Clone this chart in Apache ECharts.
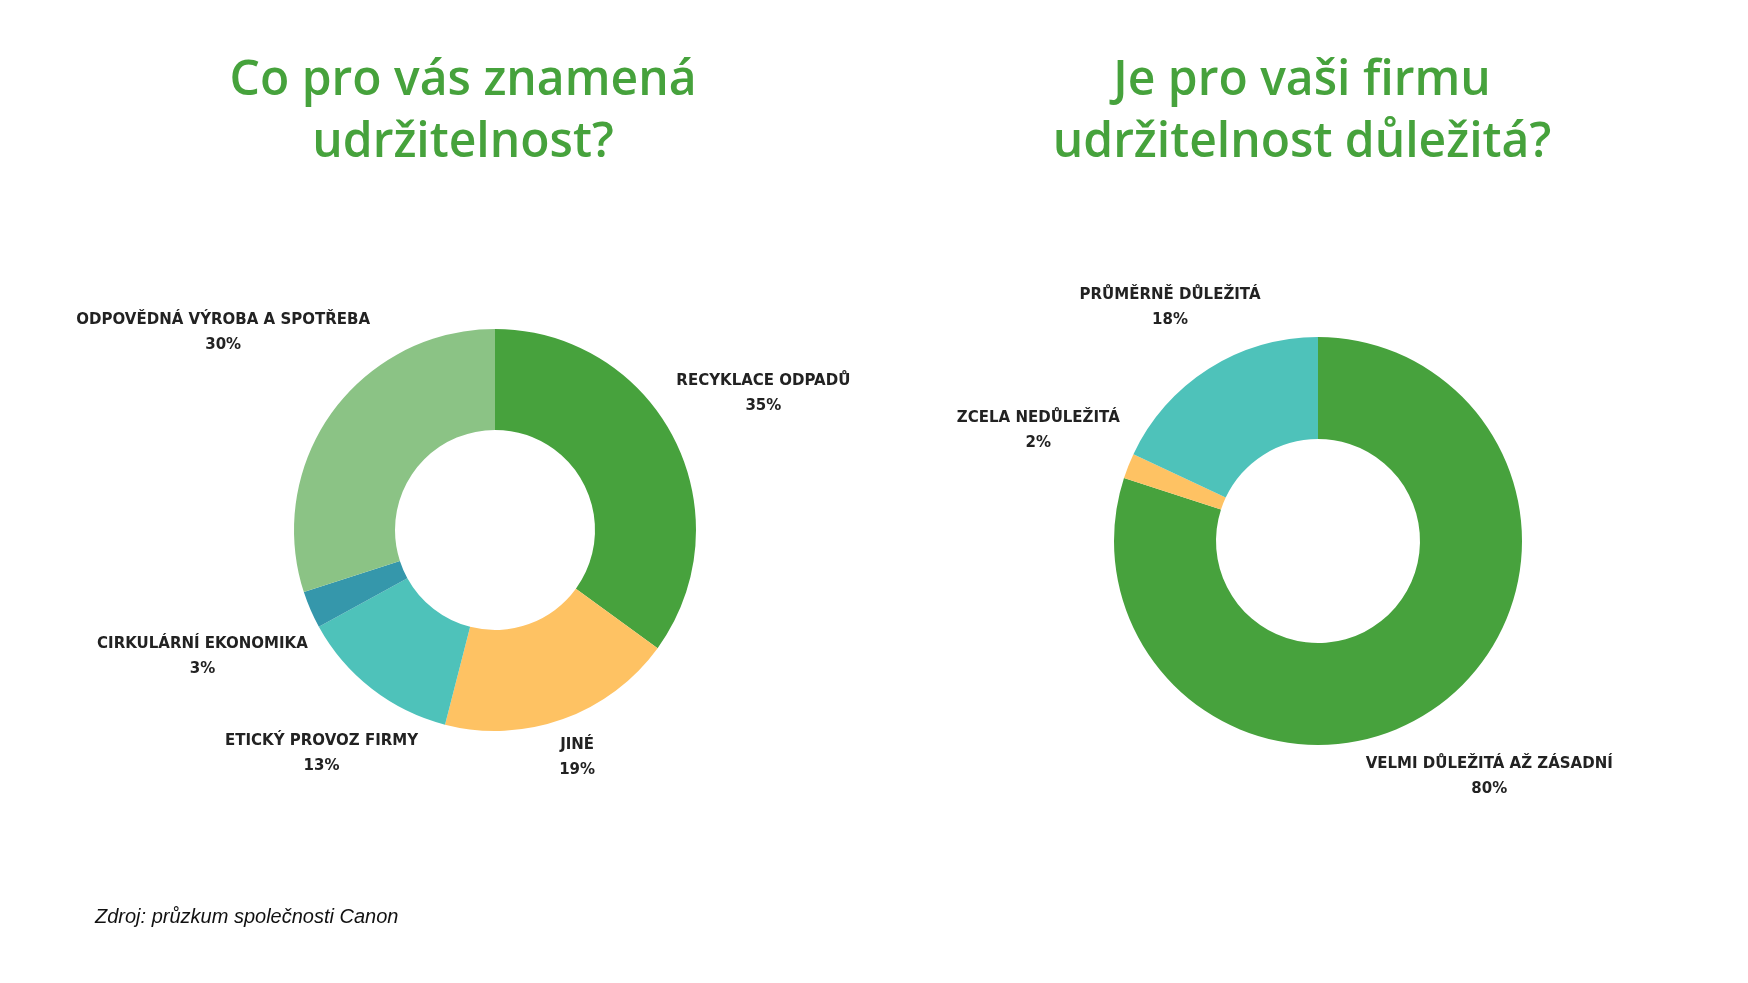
<!DOCTYPE html>
<html lang="cs">
<head>
<meta charset="UTF-8" />
<script src="https://cdn.jsdelivr.net/npm/echarts@6/dist/echarts.min.js"></script>
<title>Udržitelnost</title>
<style>
  html, body { margin: 0; padding: 0; background: #fff; }
  #main { width: 1748px; height: 983px; }
</style>
</head>
<body>
<div id="main"></div>
<script type="text/javascript">
// levý graf
const meaningNames = ['RECYKLACE ODPADŮ', 'JINÉ', 'ETICKÝ PROVOZ FIRMY', 'CIRKULÁRNÍ EKONOMIKA', 'ODPOVĚDNÁ VÝROBA A SPOTŘEBA'];
const meaningValues = [35, 19, 13, 3, 30];
const meaningColors = ['#47a23d', '#fec263', '#4ec2ba', '#3597ab', '#8bc385'];

// pravý graf
const importanceNames = ['VELMI DŮLEŽITÁ AŽ ZÁSADNÍ', 'ZCELA NEDŮLEŽITÁ', 'PRŮMĚRNĚ DŮLEŽITÁ'];
const importanceValues = [80, 2, 18];
const importanceColors = ['#47a23d', '#fec263', '#4ec2ba'];

const titleLeft = 'Co pro vás znamená\nudržitelnost?';
const titleRight = 'Je pro vaši firmu\nudržitelnost důležitá?';
const sourceText = 'Zdroj: průzkum společnosti Canon';

const green = '#46a23c';

// popisek posadit na osu výseče tak, aby jeho nejbližší roh byl kousek za prstencem
const placeLabel = (values, cx, cy, r) => params => {
	const total = values.reduce((s, v) => s + v, 0);
	let before = 0;
	for (let i = 0; i < params.dataIndex; i++) before += values[i];
	const frac = (before + values[params.dataIndex] / 2) / total;
	const a = frac * Math.PI * 2;
	const dx = Math.sin(a);
	const dy = -Math.cos(a);
	const w = params.labelRect.width / 2;
	const h = params.labelRect.height / 2;
	const R0 = r + 12;
	const c = [Math.sign(dx) * w, Math.sign(dy) * h];
	const dc = dx * c[0] + dy * c[1];
	const D = dc + Math.sqrt(dc * dc - (c[0] * c[0] + c[1] * c[1]) + R0 * R0);
	return {
		x: cx + D * dx,
		y: cy + D * dy,
		align: 'center',
		verticalAlign: 'middle'
	};
};

const labelStyle = {
	show: true,
	position: 'outside',
	formatter: '{b}\n{c}%',
	color: '#222',
	fontFamily: 'DejaVu Sans',
	fontSize: 15,
	fontWeight: 'bold',
	lineHeight: 25,
	align: 'center'
};

const titleStyle = {
	color: green,
	fontFamily: 'Open Sans',
	fontSize: 48,
	fontWeight: 600,
	lineHeight: 62,
	align: 'center'
};

const chart = echarts.init(document.getElementById('main'), null, { renderer: 'canvas' });

const option = {
	backgroundColor: '#ffffff',
	animation: false,
	title: [
		{
			text: titleLeft,
			left: 458,
			top: 45,
			textAlign: 'center',
			textStyle: titleStyle
		},
		{
			text: titleRight,
			left: 1297,
			top: 45,
			textAlign: 'center',
			textStyle: titleStyle
		},
		{
			text: sourceText,
			left: 90,
			top: 902,
			textStyle: {
				color: '#111',
				fontFamily: 'Liberation Sans',
				fontSize: 20,
				fontStyle: 'italic',
				fontWeight: 'normal'
			}
		}
	],
	series: [
		{
			type: 'pie',
			center: [495, 530],
			radius: [100, 201],
			startAngle: 90,
			clockwise: true,
			silent: true,
			avoidLabelOverlap: false,
			label: labelStyle,
			labelLine: { show: false },
			labelLayout: placeLabel(meaningValues, 495, 530, 201),
			itemStyle: { borderWidth: 0 },
			data: meaningNames.map((name, i) => ({
				name,
				value: meaningValues[i],
				itemStyle: { color: meaningColors[i] }
			}))
		},
		{
			type: 'pie',
			center: [1318, 541],
			radius: [102, 204],
			startAngle: 90,
			clockwise: true,
			silent: true,
			avoidLabelOverlap: false,
			label: labelStyle,
			labelLine: { show: false },
			labelLayout: placeLabel(importanceValues, 1318, 541, 204),
			itemStyle: { borderWidth: 0 },
			data: importanceNames.map((name, i) => ({
				name,
				value: importanceValues[i],
				itemStyle: { color: importanceColors[i] }
			}))
		}
	]
};

chart.setOption(option);
</script>
</body>
</html>
